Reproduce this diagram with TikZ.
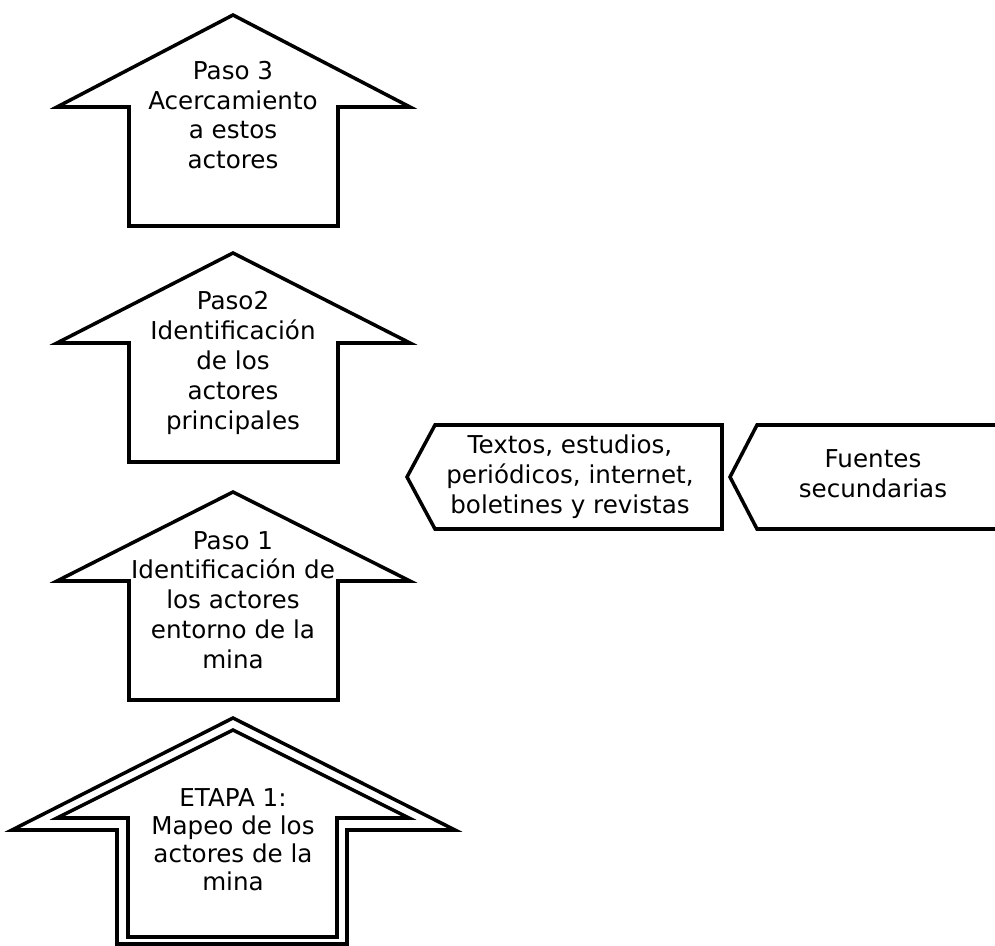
\documentclass[tikz,border=0pt]{standalone}
\usepackage{fontspec}
\setmainfont{DejaVu Sans}
\begin{document}
\begin{tikzpicture}[
    x=0.02cm, y=-0.02cm,
    font=\fontsize{14}{17}\selectfont,
    % Styles
    steparrow/.style={line width=2pt, fill=white},
    sourcebox/.style={line width=2pt, fill=white},
    label/.style={align=center, inner sep=0pt}
]
\clip (0,0) rectangle (995,946);

% --- LINKS: SCHRITTE (von oben nach unten) ---
% Paso 3
\draw[steparrow] (233,15) -- (410,107) -- (338,107) -- (338,226)
    -- (129,226) -- (129,107) -- (57,107) -- cycle;
\node[label] (paso3) at (233,115) {Paso 3\\Acercamiento\\a estos\\actores};

% Paso 2
\draw[steparrow] (233,253) -- (410,343) -- (338,343) -- (338,462)
    -- (129,462) -- (129,343) -- (57,343) -- cycle;
\node[label] (paso2) at (233,363) {Paso2\\Identificación\\de los\\actores\\principales};

% Paso 1
\draw[steparrow] (233,492) -- (410,581) -- (338,581) -- (338,700)
    -- (129,700) -- (129,581) -- (57,581) -- cycle;
\node[label] (paso1) at (233,600) {Paso 1\\Identificación de\\los actores\\entorno de la\\mina};

% Etapa 1 (doppelte Linie: aussen + innen)
\draw[steparrow] (233,718) -- (455,830) -- (347,830) -- (347,944)
    -- (117,944) -- (117,830) -- (12,830) -- cycle;
\draw[steparrow] (233,730) -- (409,818) -- (337,818) -- (337,937)
    -- (128,937) -- (128,818) -- (57,818) -- cycle;
\node[label, font=\fontsize{14}{16}\selectfont] (etapa) at (233,840)
    {ETAPA 1:\\Mapeo de los\\actores de la\\mina};

% --- RECHTS: QUELLEN ---
\draw[sourcebox] (407,477) -- (435,425) -- (722,425) -- (722,529)
    -- (435,529) -- cycle;
\node[label] (textos) at (570,477) {Textos, estudios,\\periódicos, internet,\\boletines y revistas};

\draw[sourcebox] (730,477) -- (757,425) -- (1010,425) -- (1010,529)
    -- (757,529) -- cycle;
\node[label] (fuentes) at (873,474) {Fuentes\\secundarias};

\end{tikzpicture}
\end{document}
